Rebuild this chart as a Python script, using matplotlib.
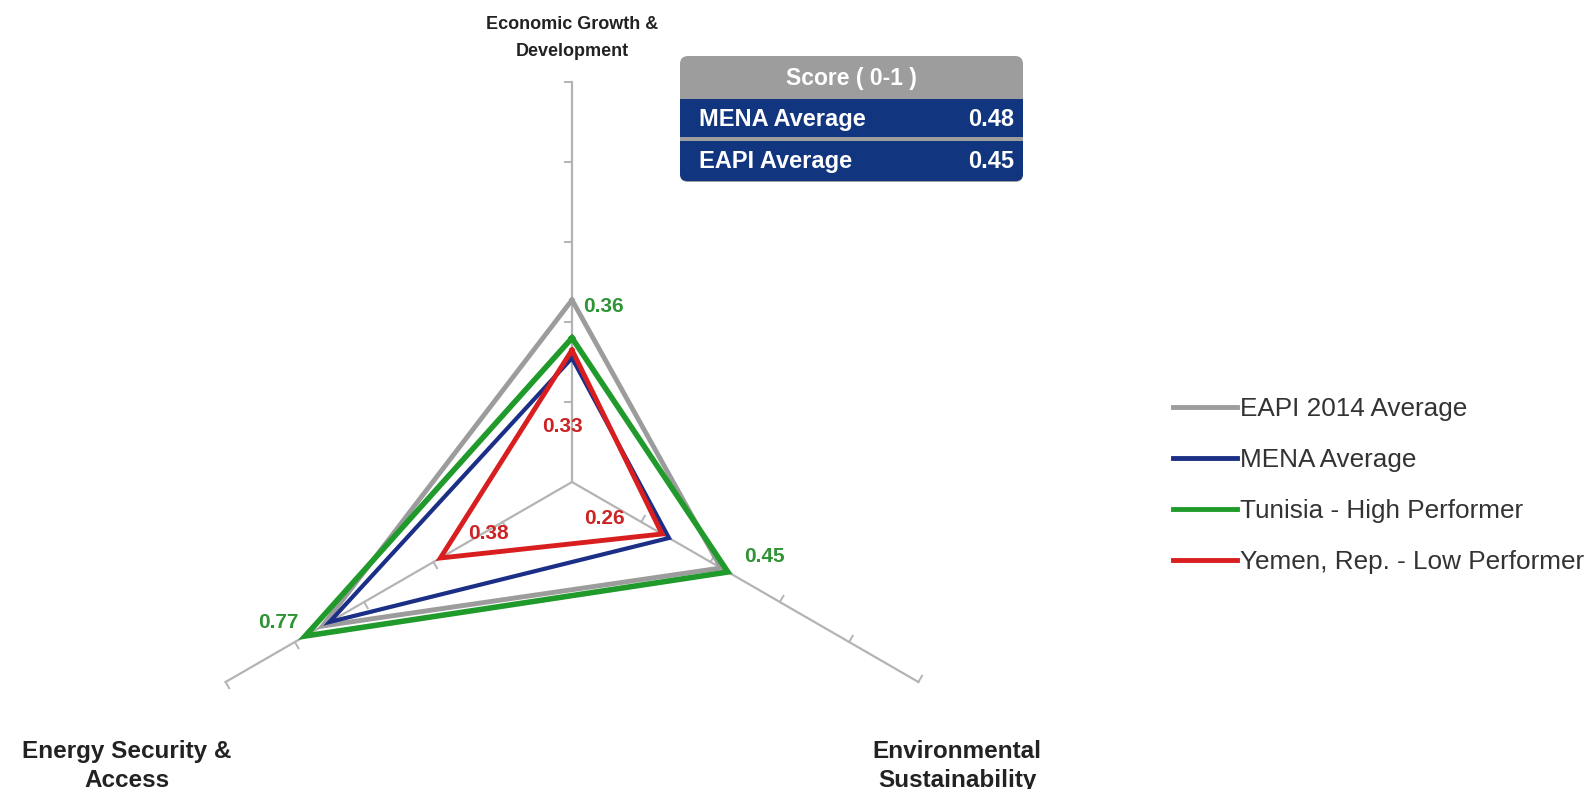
import matplotlib.pyplot as plt
import numpy as np
from matplotlib.patches import FancyBboxPatch, Rectangle

plt.rcParams['font.family'] = ['Liberation Sans', 'DejaVu Sans']

# axes of the radar: top, lower right, lower left
categories = ['Economic Growth &\nDevelopment', 'Environmental\nSustainability', 'Energy Security &\nAccess']
angles_deg = [90, -30, 210]

series_names = ['EAPI 2014 Average', 'MENA Average', 'Tunisia - High Performer', 'Yemen, Rep. - Low Performer']
eapi_avg = [0.455, 0.43, 0.72]
mena_avg = [0.31, 0.28, 0.70]
tunisia = [0.36, 0.45, 0.77]
yemen = [0.33, 0.26, 0.38]

score_rows = ['MENA Average', 'EAPI Average']
score_vals = [0.48, 0.45]

colors = ['#9c9c9c', '#1b2f86', '#1f9a2b', '#d81e1e']
widths = [3.5, 3.0, 4.0, 3.5]
green_txt = '#2e9436'
red_txt = '#cc2424'

W, H = 1588, 789
CX, CY, R = 572, 482, 400   # centre and radius in pixels

fig = plt.figure(figsize=(W / 100, H / 100), dpi=100)
ax = fig.add_axes([0, 0, 1, 1])
ax.set_xlim(-CX / R, (W - CX) / R)
ax.set_ylim(-(H - CY) / R, CY / R)
ax.set_aspect('equal')
ax.axis('off')

th = np.radians(angles_deg)

def to_xy(vals):
    v = np.asarray(vals, dtype=float)
    return v * np.cos(th), v * np.sin(th)

# spokes with small ticks every 0.2
for a in th:
    ax.plot([0, np.cos(a)], [0, np.sin(a)], color='#b4b4b4', lw=1.6, zorder=1)
    nx, ny = np.cos(a + np.pi / 2), np.sin(a + np.pi / 2)
    for r in np.arange(0.2, 1.01, 0.2):
        x0, y0 = r * np.cos(a), r * np.sin(a)
        ax.plot([x0, x0 + 0.018 * nx], [y0, y0 + 0.018 * ny], color='#b4b4b4', lw=1.4, zorder=1)

handles = []
for i, (name, vals) in enumerate(zip(series_names, [eapi_avg, mena_avg, tunisia, yemen])):
    x, y = to_xy(vals)
    ln, = ax.plot(np.append(x, x[0]), np.append(y, y[0]), color=colors[i], lw=widths[i],
                  solid_joinstyle='miter', zorder=2 + i, label=name)
    handles.append(ln)

# value labels for the two highlighted countries
lab_kw = dict(fontsize=15, fontweight='bold', va='center')
tx, ty = to_xy(tunisia)
ax.text(tx[0] + 0.028, ty[0] + 0.08, f'{tunisia[0]:.2f}', color=green_txt, ha='left', **lab_kw)
ax.text(tx[1] + 0.04, ty[1] + 0.038, f'{tunisia[1]:.2f}', color=green_txt, ha='left', **lab_kw)
ax.text(tx[2] - 0.018, ty[2] + 0.035, f'{tunisia[2]:.2f}', color=green_txt, ha='right', **lab_kw)

yx, yy = to_xy(yemen)
ax.text(yx[0] - 0.025, yy[0] - 0.19, f'{yemen[0]:.2f}', color=red_txt, ha='center', **lab_kw)
ax.text(yx[1] - 0.143, yy[1] + 0.04, f'{yemen[1]:.2f}', color=red_txt, ha='center', **lab_kw)
ax.text(yx[2] + 0.12, yy[2] + 0.062, f'{yemen[2]:.2f}', color=red_txt, ha='center', **lab_kw)

# overlay in pixel coordinates for titles, score box and legend
ov = fig.add_axes([0, 0, 1, 1])
ov.set_xlim(0, W)
ov.set_ylim(H, 0)
ov.axis('off')
ov.patch.set_alpha(0)

ov.text(572, 38, categories[0], ha='center', va='center', fontsize=13, fontweight='bold',
        color='#222222', linespacing=1.8)
for (px, py), txt in zip([(957, 766), (127, 766)], categories[1:]):
    ov.text(px, py, txt, ha='center', va='center', fontsize=17.5, fontweight='bold',
            color='#222222', linespacing=1.3)

# score box
bx0, bx1 = 680, 1023
ov.add_patch(FancyBboxPatch((bx0, 56), bx1 - bx0, 126, boxstyle='round,pad=0,rounding_size=8',
                            fc='#9d9d9d', ec='none'))
ov.text((bx0 + bx1) / 2, 78, 'Score ( 0-1 )', color='white', fontsize=16.5, fontweight='bold',
        ha='center', va='center')
row_top = [99, 141]
for i, (lab, val) in enumerate(zip(score_rows, score_vals)):
    if i == len(score_rows) - 1:
        ov.add_patch(FancyBboxPatch((bx0, row_top[i]), bx1 - bx0, 40,
                                    boxstyle='round,pad=0,rounding_size=7', fc='#12357f', ec='none'))
        ov.add_patch(Rectangle((bx0, row_top[i]), bx1 - bx0, 12, fc='#12357f', ec='none'))
    else:
        ov.add_patch(Rectangle((bx0, row_top[i]), bx1 - bx0, 38, fc='#12357f', ec='none'))
    ov.text(bx0 + 19, row_top[i] + 20, lab, color='white', fontsize=17, fontweight='bold',
            ha='left', va='center')
    ov.text(bx1 - 9, row_top[i] + 20, f'{val:.2f}', color='white', fontsize=17, fontweight='bold',
            ha='right', va='center')

leg = fig.legend(handles=handles, loc='upper left', bbox_to_anchor=(1173 / W, 1 - 397 / H),
                 frameon=False, fontsize=18.8, labelspacing=1.03, handlelength=2.45,
                 handletextpad=0.1, borderpad=0, borderaxespad=0)
for t in leg.get_texts():
    t.set_color('#333333')
for lh in leg.get_lines():
    lh.set_linewidth(3.5)

fig.savefig('out.png', dpi=100)
